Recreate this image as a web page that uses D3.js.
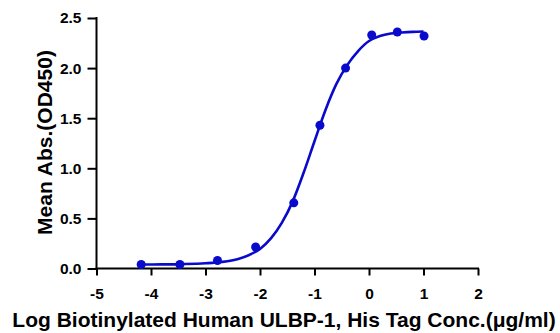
<!DOCTYPE html>
<html>
<head>
<meta charset="utf-8">
<script src="https://cdn.jsdelivr.net/npm/d3@7/dist/d3.min.js"></script>
<style>
  html, body { margin: 0; padding: 0; background: #fff; }
  svg { display: block; }
  text { font-family: "Liberation Sans", Arial, sans-serif; font-weight: bold; fill: #000; }
</style>
</head>
<body>
<svg id="chart" width="560" height="333"></svg>
<script>
// Measured points: log concentration (µg/ml) vs mean OD450
const logConc = [-4.18, -3.47, -2.78, -2.08, -1.38, -0.90, -0.43, 0.05, 0.52, 1.01];
const meanAbs = [0.04, 0.04, 0.08, 0.215, 0.655, 1.43, 2.00, 2.33, 2.36, 2.32];

// Fitted dose-response curve, sampled along the x range
const fitX = [-4.18, -3.8, -3.4, -3.0, -2.7, -2.4, -2.2, -2.0, -1.8, -1.6, -1.4, -1.2, -1.0, -0.8, -0.6, -0.4, -0.2, 0, 0.2, 0.4, 0.6, 0.8, 1.0];
const fitY = [0.04, 0.041, 0.044, 0.052, 0.065, 0.095, 0.135, 0.195, 0.30, 0.455, 0.67, 0.955, 1.27, 1.58, 1.84, 2.03, 2.17, 2.27, 2.32, 2.345, 2.355, 2.362, 2.365];

const xTicks = [-5, -4, -3, -2, -1, 0, 1, 2];
const yTicks = [0, 0.5, 1.0, 1.5, 2.0, 2.5];

const xTitle = "Log Biotinylated Human ULBP-1, His Tag Conc.(\u03bcg/ml)";
const yTitle = "Mean Abs.(OD450)";

const blue = "#0a0acc";

const svg = d3.select("#chart");
const x = d3.scaleLinear().domain([-5, 2]).range([96.5, 478]);
const y = d3.scaleLinear().domain([0, 2.5]).range([268.5, 18]);

// Axes (plain hyphen for negative tick labels)
const xAxis = svg.append("g")
  .attr("transform", `translate(0,${y(0)})`)
  .call(d3.axisBottom(x).tickValues(xTicks).tickFormat(d => String(d)).tickSize(7).tickPadding(12.5));
const yAxis = svg.append("g")
  .attr("transform", `translate(${x(-5)},0)`)
  .call(d3.axisLeft(y).tickValues(yTicks).tickFormat(d3.format(".1f")).tickSize(9).tickPadding(6));

[xAxis, yAxis].forEach(g => {
  g.select(".domain").attr("stroke", "#000").attr("stroke-width", 2);
  g.selectAll(".tick line").attr("stroke", "#000").attr("stroke-width", 2);
  g.selectAll(".tick text")
    .style("font-size", "15.5px")
    .style("font-family", "Liberation Sans, Arial, sans-serif")
    .style("font-weight", "bold")
    .attr("fill", "#000");
});
// axis lines end at the extreme ticks
xAxis.select(".domain").attr("d", `M${x(-5) - 1},0H${x(2) + 1}`);
yAxis.select(".domain").attr("d", `M0,${y(0) + 1}V${y(2.5) - 1}`);

// Fitted curve
const fit = fitX.map((v, i) => [v, fitY[i]]);
svg.append("path")
  .datum(fit)
  .attr("fill", "none")
  .attr("stroke", blue)
  .attr("stroke-width", 2.6)
  .attr("d", d3.line().x(d => x(d[0])).y(d => y(d[1])).curve(d3.curveMonotoneX));

// Data points
svg.append("g").selectAll("circle")
  .data(logConc.map((v, i) => [v, meanAbs[i]]))
  .join("circle")
  .attr("cx", d => x(d[0]))
  .attr("cy", d => y(d[1]))
  .attr("r", 4.5)
  .attr("fill", blue);

// Axis titles
svg.append("text")
  .attr("x", 284).attr("y", 326.5)
  .attr("text-anchor", "middle")
  .style("font-size", "21px")
  .text(xTitle);

svg.append("text")
  .attr("transform", "translate(52,142.5) rotate(-90)")
  .attr("text-anchor", "middle")
  .style("font-size", "21px")
  .text(yTitle);
</script>
</body>
</html>
